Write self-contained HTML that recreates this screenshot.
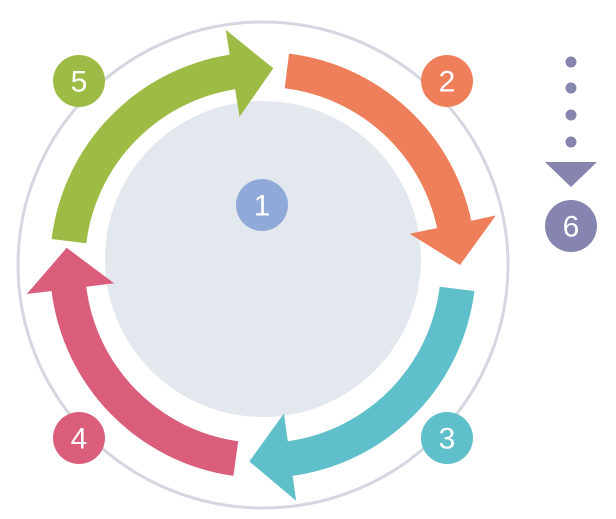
<!DOCTYPE html>
<html><head><meta charset="utf-8"><style>
html,body{margin:0;padding:0;background:#fff;}
svg{display:block}
text{font-family:"Liberation Sans","DejaVu Sans",sans-serif;font-size:30px;fill:#fff;text-anchor:middle;dominant-baseline:central}
</style></head><body>
<svg id="s" width="616" height="519" viewBox="0 0 616 519" xmlns="http://www.w3.org/2000/svg">
<ellipse cx="263" cy="265" rx="245" ry="243" fill="none" stroke="#D4D7E0" stroke-width="3"/>
<circle cx="263" cy="259" r="158" fill="#E3E7EE"/>
<g id="arrows"></g>
<circle cx="79" cy="81" r="26" fill="#9EBB45"/><text x="79" y="82">5</text>
<circle cx="447" cy="81" r="26" fill="#EF7F5A"/><text x="447" y="82">2</text>
<circle cx="447" cy="438" r="26" fill="#5FBFCB"/><text x="447" y="439">3</text>
<circle cx="79" cy="438" r="26" fill="#DA5D7B"/><text x="79" y="439">4</text>
<circle cx="262" cy="205" r="26" fill="#8FA9D8"/><text x="262" y="206">1</text>
<circle cx="571" cy="62" r="5.5" fill="#8585B0"/>
<circle cx="571" cy="88" r="5.5" fill="#8585B0"/>
<circle cx="571" cy="115" r="5.5" fill="#8585B0"/>
<circle cx="571" cy="142" r="5.5" fill="#8585B0"/>
<polygon points="545,162 597,162 571,187" fill="#8585B0"/>
<circle cx="571" cy="226" r="26" fill="#8585B0"/><text x="571" y="227">6</text>
</svg>
<script>
(function(){
var cx=263,cy=265,ri=178,ro=213,hi=150,ho=238,rm=197;
function p(r,a){a=a*Math.PI/180;return (cx+r*Math.sin(a)).toFixed(1)+","+(cy-r*Math.cos(a)).toFixed(1);}
var segs=[[7,78,90,"#EF7F5A"],[97,172,184,"#5FBFCB"],[188,263,275,"#DA5D7B"],[277,351,363,"#9EBB45"]];
var g=document.getElementById("arrows"),h="";
segs.forEach(function(s){
var d="M"+p(ro,s[0])+" A"+ro+","+ro+" 0 0 1 "+p(ro,s[1])+" L"+p(ho,s[1])+" L"+p(rm,s[2])+" L"+p(hi,s[1])+" L"+p(ri,s[1])+" A"+ri+","+ri+" 0 0 0 "+p(ri,s[0])+" Z";
h+='<path d="'+d+'" fill="'+s[3]+'"/>';
});
g.innerHTML=h;
})();
</script>
</body></html>
